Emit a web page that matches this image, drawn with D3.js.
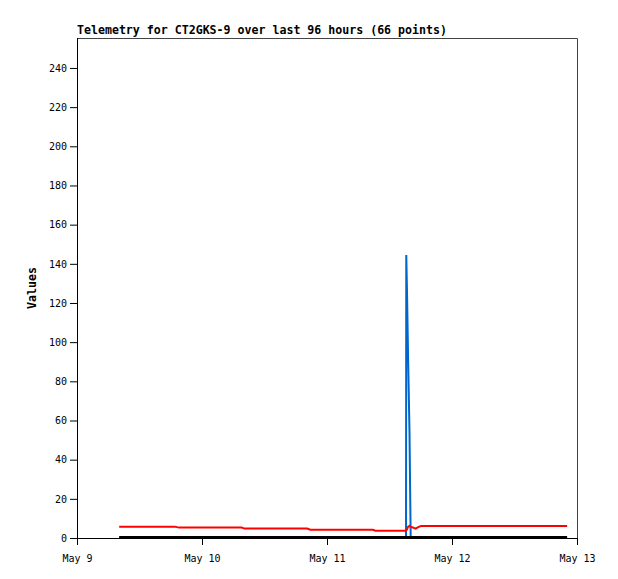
<!DOCTYPE html>
<html><head><meta charset="utf-8">
<script src="https://cdn.jsdelivr.net/npm/d3@7"></script>
<style>
body{margin:0;background:#fff;}
svg{display:block;}
text{font-family:"DejaVu Sans Mono","Liberation Mono",monospace;}
</style></head>
<body><svg id="c" width="618" height="579"></svg>
<script>
const titleText = "Telemetry for CT2GKS-9 over last 96 hours (66 points)";
const yLabel = "Values";
const xTickDates = ["2024-05-09","2024-05-10","2024-05-11","2024-05-12","2024-05-13"];
const yTicks = [0,20,40,60,80,100,120,140,160,180,200,220,240];
// hours after May 9 00:00
const hours = [8.1,9.5,10.8,12.1,13.4,14.8,16.1,17.4,18.8,19.6,21.0,22.3,23.6,25.0,26.3,27.6,29.0,30.3,31.6,32.2,33.5,34.9,36.2,37.5,38.9,40.2,41.5,42.9,44.2,44.8,46.1,47.5,48.8,50.1,51.5,52.8,54.1,55.5,56.8,57.3,58.6,60.0,61.3,62.6,63.17,63.22,63.36,63.58,63.84,63.99,64.07,64.38,65.03,65.5,66.05,67.4,68.7,70.0,71.4,72.7,74.0,76.0,79.0,83.0,88.0,94.1];
const redValues = [5.8,5.8,5.8,5.8,5.8,5.8,5.8,5.8,5.8,5.3,5.3,5.3,5.3,5.3,5.3,5.3,5.3,5.3,5.3,4.8,4.8,4.8,4.8,4.8,4.8,4.8,4.8,4.8,4.8,4.2,4.2,4.2,4.2,4.2,4.2,4.2,4.2,4.2,4.2,3.7,3.7,3.7,3.7,3.7,3.7,3.8,4.5,5.8,6.2,5.9,5.6,5.5,4.8,5.6,6.1,6.1,6.1,6.1,6.1,6.1,6.1,6.1,6.1,6.1,6.1,6.1];
const blueValues = [0,0,0,0,0,0,0,0,0,0,0,0,0,0,0,0,0,0,0,0,0,0,0,0,0,0,0,0,0,0,0,0,0,0,0,0,0,0,0,0,0,0,0,0,0,144.5,126,90.5,54,18,0,0,0,0,0,0,0,0,0,0,0,0,0,0,0,0];
const blackValues = [0.5,0.5,0.5,0.5,0.5,0.5,0.5,0.5,0.5,0.5,0.5,0.5,0.5,0.5,0.5,0.5,0.5,0.5,0.5,0.5,0.5,0.5,0.5,0.5,0.5,0.5,0.5,0.5,0.5,0.5,0.5,0.5,0.5,0.5,0.5,0.5,0.5,0.5,0.5,0.5,0.5,0.5,0.5,0.5,0.5,0.5,0.5,0.5,0.5,0.5,0.5,0.5,0.5,0.5,0.5,0.5,0.5,0.5,0.5,0.5,0.5,0.5,0.5,0.5,0.5,0.5];

const base = Date.UTC(2024,4,9);
const times = hours.map(h => new Date(base + h*3600e3));

const svg = d3.select("#c");
const L=77, R=577, T=38, B=538;
const x = d3.scaleUtc().domain([new Date(xTickDates[0]+"T00:00Z"), new Date(xTickDates[4]+"T00:00Z")]).range([L,R]);
const y = d3.scaleLinear().domain([0,255.3]).range([B,T]);

// frame top/right
svg.append("path").attr("d",`M${L},${T+0.5}H${R+0.5}V${B}`).attr("fill","none").attr("stroke","#444").attr("stroke-width",1);

const line = d3.line().x((d,i)=>x(times[i])).y(d=>y(d));
const series = [[blueValues,"#0066cc"],[redValues,"#ff0000"],[blackValues,"#000000"]];
series.forEach(([vals,col])=>{
  svg.append("path").datum(vals).attr("d",line).attr("fill","none").attr("stroke",col).attr("stroke-width",2).attr("stroke-linejoin","miter");
});

const xAxis = svg.append("g").attr("transform",`translate(0,${B})`)
  .call(d3.axisBottom(x).tickValues(xTickDates.map(s=>new Date(s+"T00:00Z"))).tickFormat(d3.utcFormat("%b %-d")).tickSize(7).tickSizeOuter(0));
const yAxis = svg.append("g").attr("transform",`translate(${L},0)`)
  .call(d3.axisLeft(y).tickValues(yTicks).tickSize(7).tickSizeOuter(0));
[xAxis,yAxis].forEach(g=>{
  g.select(".domain").attr("stroke","#000");
  g.selectAll(".tick line").attr("stroke","#000");
  g.selectAll("text").attr("fill","#000").style("font-size","10px").style("font-family",'"DejaVu Sans Mono",monospace');
});
xAxis.select(".domain").attr("d",`M${L-7},0.5H${R+0.5}`);
yAxis.select(".domain").attr("d",`M0.5,${B+7}V${T}`);
xAxis.selectAll("text").attr("dy","1.4em");

svg.append("text").attr("x",L).attr("y",34).text(titleText)
  .style("font-size","11.6px").style("font-weight","bold");
svg.append("text").attr("transform",`translate(36,${(T+B)/2}) rotate(-90)`).attr("text-anchor","middle")
  .text(yLabel).style("font-size","11.6px").style("font-weight","bold");
</script></body></html>
